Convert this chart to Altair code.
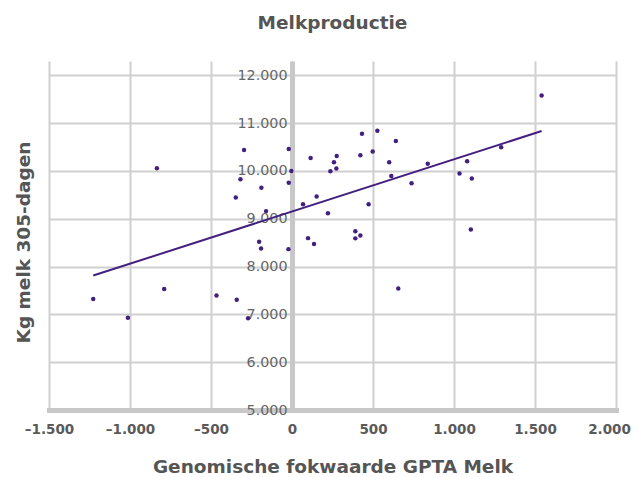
import altair as alt
import pandas as pd

# Scatter points
gpta = [-1227, -1013, -834, -789, -466, -347, -341, -318, -296, -271,
        -203, -191, -189, -160, -22, -20, -20, -4, 68, 99,
        115, 136, 152, 222, 237, 259, 274, 276, 391, 391,
        422, 422, 432, 473, 498, 527, 600, 613, 641, 656,
        738, 838, 1034, 1081, 1104, 1110, 1291, 1541]
melk = [7320, 6930, 10055, 7530, 7395, 9445, 7305, 9825, 10440, 6920,
        8520, 8380, 9650, 9160, 8365, 10460, 9755, 10000, 9305, 8595,
        10270, 8470, 9465, 9115, 9995, 10180, 10050, 10315, 8740, 8590,
        8650, 10330, 10780, 9305, 10405, 10840, 10180, 9895, 10625, 7540,
        9745, 10150, 9945, 10205, 8775, 9840, 10495, 11580]

# Trend line endpoints
trend_x = [-1227, 1541]
trend_y = [7812, 10836]

x_ticks = [-1500, -1000, -500, 0, 500, 1000, 1500, 2000]
y_ticks = [5000, 6000, 7000, 8000, 9000, 10000, 11000, 12000]

pts = pd.DataFrame({"x": gpta, "y": melk})
trend = pd.DataFrame({"x": trend_x, "y": trend_y})

purple = "#43207f"
FONT = "DejaVu Sans"
fmt = "replace(replace(format(datum.value, ','), ',', '.'), '\u2212', '\u2013')"

xscale = alt.Scale(domain=[-1500, 2000], nice=False, zero=False)
yscale = alt.Scale(domain=[5000, 12300], nice=False, zero=False)

xaxis = alt.Axis(values=x_ticks, labelExpr=fmt, title="Genomische fokwaarde GPTA Melk",
                 grid=True, gridColor="#d0d0d0", gridWidth=2,
                 domainColor="#c8c8c8", domainWidth=5, domainCap="square",
                 ticks=False, labelFlush=False, labelPadding=12, labelFont=FONT,
                 labelOffset={"condition": {"test": "datum.value == 2000", "value": -7},
                              "value": 0},
                 labelFontSize=13.5, labelFontWeight="bold", labelColor="#5a5a5a",
                 titleFont=FONT, titleFontSize=18.5, titleFontWeight="bold",
                 titleColor="#555555", titleBaseline="alphabetic", titleY=62)
yaxis = alt.Axis(values=y_ticks, labelExpr=fmt, title="Kg melk 305-dagen",
                 grid=True, gridColor="#d0d0d0", gridWidth=2,
                 domainColor="#c8c8c8", domainWidth=5,
                 ticks=False, labelFlush=False, offset=-243, labelPadding=5,
                 labelFont=FONT, labelFontSize=14.3, labelColor="#666666",
                 titleFont=FONT, titleFontSize=18.5, titleFontWeight="bold",
                 titleColor="#555555", titleBaseline="alphabetic",
                 titleX=-263, titleY=181)

points = alt.Chart(pts).mark_circle(size=20, color=purple, opacity=1).encode(
    x=alt.X("x:Q", scale=xscale, axis=xaxis),
    y=alt.Y("y:Q", scale=yscale, axis=yaxis),
)
line = alt.Chart(trend).mark_line(color=purple, strokeWidth=2).encode(
    x=alt.X("x:Q", scale=xscale),
    y=alt.Y("y:Q", scale=yscale),
)

chart = (line + points).properties(
    width=567, height=349,
    autosize=alt.AutoSizeParams(type="none"),
    padding={"left": 41, "top": 53, "right": 15, "bottom": 67},
    title=alt.TitleParams("Melkproductie", font=FONT, fontSize=18.5,
                          fontWeight="bold", color="#555555", anchor="middle",
                          offset=29),
).configure_view(stroke=None)

chart.save("out.html", embed_options={"renderer": "svg", "actions": False})
